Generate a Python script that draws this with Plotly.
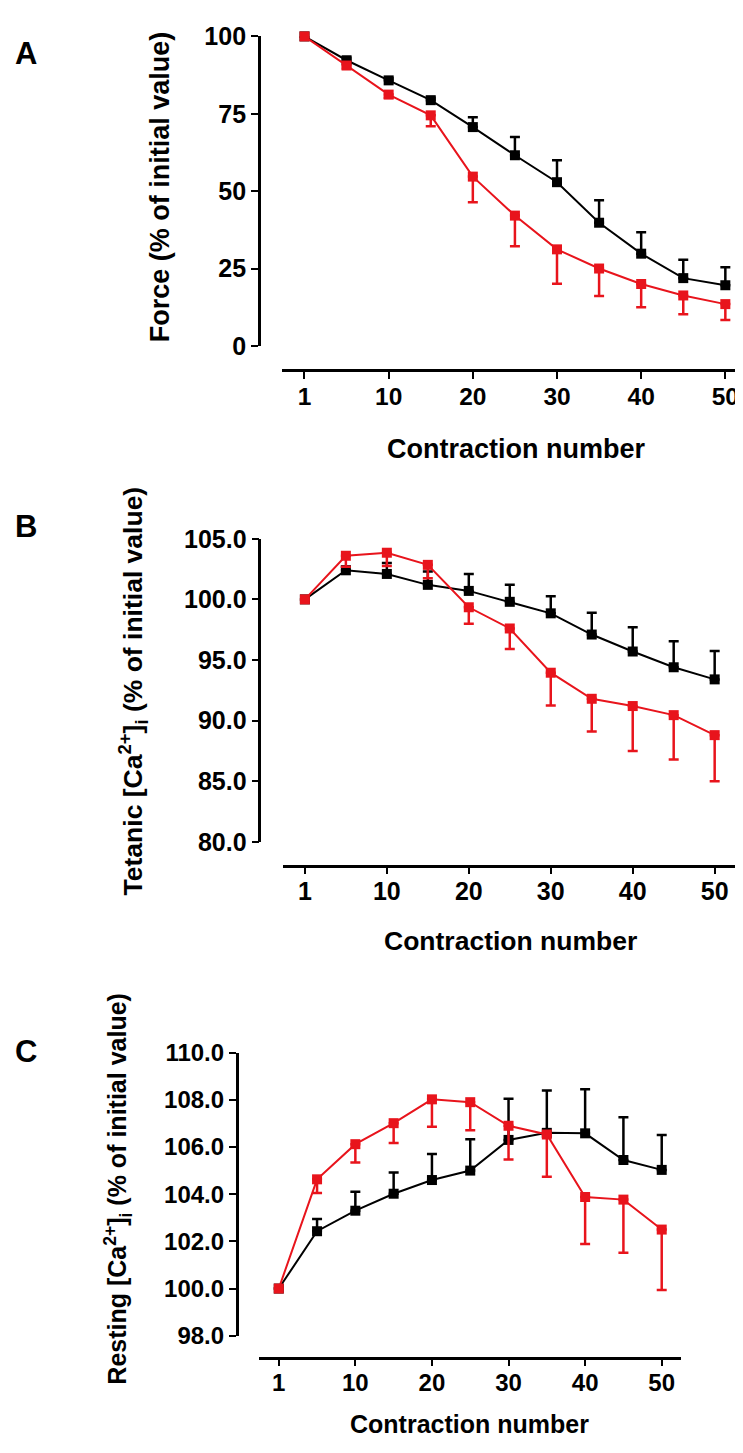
import plotly.graph_objects as go

# page is 743x1453; the HTML body has an 8px default margin, so the figure is
# made 8px smaller and all pixel positions are shifted by that margin.
W, H = 743, 1453
OFF = 8
FW, FH = W - OFF, H - OFF

# ---------------- data ----------------
contractions = ["1", "5", "10", "15", "20", "25", "30", "35", "40", "45", "50"]
tick_labels = ["1", "10", "20", "30", "40", "50"]

# Panel A: Force (% of initial value)
force_black = [100, 92.3, 85.8, 79.4, 70.7, 61.6, 52.9, 39.8, 29.8, 21.9, 19.6]
force_black_err = [0, 0.8, 0.8, 0.8, 3.2, 5.9, 7.1, 7.3, 6.9, 5.9, 5.8]
force_red = [100, 90.6, 81.2, 74.5, 54.7, 42.1, 31.2, 25.0, 20.0, 16.3, 13.5]
force_red_err = [0, 1.0, 1.0, 3.5, 8.3, 9.9, 11.1, 8.9, 7.5, 6.1, 5.1]

# Panel B: Tetanic [Ca2+]i (% of initial value)
tet_black = [100, 102.4, 102.1, 101.2, 100.7, 99.8, 98.85, 97.1, 95.7, 94.4, 93.4]
tet_black_err = [0, 0.3, 0.9, 1.1, 1.4, 1.4, 1.4, 1.8, 2.0, 2.15, 2.35]
tet_red = [100, 103.6, 103.85, 102.85, 99.35, 97.6, 93.95, 91.8, 91.2, 90.45, 88.8]
tet_red_err = [0, 0.9, 1.1, 1.1, 1.35, 1.7, 2.7, 2.7, 3.7, 3.65, 3.8]

# Panel C: Resting [Ca2+]i (% of initial value)
rest_black = [100, 102.43, 103.3, 104.02, 104.6, 105.0, 106.3, 106.6, 106.58, 105.45, 105.03]
rest_black_err = [0, 0.52, 0.8, 0.9, 1.1, 1.33, 1.75, 1.8, 1.87, 1.81, 1.48]
rest_red = [100, 104.63, 106.12, 107.01, 108.02, 107.9, 106.9, 106.53, 103.88, 103.77, 102.5]
rest_red_err = [0, 0.58, 0.78, 0.84, 1.16, 1.19, 1.43, 1.79, 1.99, 2.25, 2.56]

RED = "#e8141c"
BLACK = "#000000"
FONT = "Liberation Sans, Arial, Helvetica, sans-serif"


def px_x(p):
    return (p - OFF) / FW


def px_y(p):
    return (H - p) / FH


zeros = [0] * len(contractions)

fig = go.Figure()

panels = [
    dict(black=force_black, berr=force_black_err, red=force_red, rerr=force_red_err,
         xref="x", yref="y"),
    dict(black=tet_black, berr=tet_black_err, red=tet_red, rerr=tet_red_err,
         xref="x2", yref="y2"),
    dict(black=rest_black, berr=rest_black_err, red=rest_red, rerr=rest_red_err,
         xref="x3", yref="y3"),
]

for p in panels:
    fig.add_trace(go.Scatter(
        x=contractions, y=p["black"], mode="lines+markers",
        xaxis=p["xref"], yaxis=p["yref"],
        line=dict(color=BLACK, width=2),
        marker=dict(symbol="square", size=10, color=BLACK),
        error_y=dict(type="data", symmetric=False, array=p["berr"], arrayminus=zeros,
                     color=BLACK, thickness=2.5, width=5),
        cliponaxis=False, showlegend=False, hoverinfo="skip"))
    fig.add_trace(go.Scatter(
        x=contractions, y=p["red"], mode="lines+markers",
        xaxis=p["xref"], yaxis=p["yref"],
        line=dict(color=RED, width=2),
        marker=dict(symbol="square", size=10, color=RED),
        error_y=dict(type="data", symmetric=False, array=zeros, arrayminus=p["rerr"],
                     color=RED, thickness=2.5, width=5),
        cliponaxis=False, showlegend=False, hoverinfo="skip"))


def tfont(size):
    return dict(family=FONT, size=size, color="black", weight="bold")


def xaxis(x0, x1, tick0_px, tick10_px, line_y, fsize):
    per = (tick10_px - tick0_px) / 10.0
    return dict(
        type="category", categoryorder="array", categoryarray=contractions,
        domain=[px_x(x0), min(1.0, px_x(x1))],
        range=[(x0 - tick0_px) / per, (x1 - tick0_px) / per],
        anchor="free", position=px_y(line_y),
        showline=True, linewidth=2.5, linecolor="black",
        ticks="outside", ticklen=7, tickwidth=2, tickcolor="black",
        tickvals=tick_labels, ticktext=tick_labels, tickfont=tfont(fsize),
        ticklabelstandoff=-4,
        showgrid=False, zeroline=False, fixedrange=True)


def yaxis(top_px, bot_px, lo, hi, dtick, fmt, ax_x, fsize):
    return dict(
        domain=[px_y(bot_px), px_y(top_px)], range=[lo, hi],
        anchor="free", position=px_x(ax_x),
        showline=True, linewidth=2.5, linecolor="black",
        ticks="outside", ticklen=7, tickwidth=2, tickcolor="black",
        tick0=lo, dtick=dtick, tickformat=fmt, tickfont=tfont(fsize),
        showgrid=False, zeroline=False, fixedrange=True)


fig.update_layout(
    width=FW, height=FH, margin=dict(l=0, r=0, t=0, b=0),
    paper_bgcolor="white", plot_bgcolor="white",
    xaxis=xaxis(283, 739, 305.3, 727.3, 363.3, 24.5),
    yaxis=yaxis(22.7, 338.3, 0, 100, 25, "d", 259.5, 25),
    xaxis2=xaxis(284, 737, 305.7, 716.6, 868.3, 25),
    yaxis2=yaxis(535, 844, 80, 105, 5, ".1f", 260, 25),
    xaxis3=xaxis(259.3, 682.5, 279.5, 663.5, 1370, 24),
    yaxis3=yaxis(1059, 1347.7, 98, 110, 2, ".1f", 237.3, 24),
)

annos = [
    dict(text="A", x=26, y=40, size=31, angle=0),
    dict(text="B", x=26, y=522, size=31, angle=0),
    dict(text="C", x=26, y=1058, size=31, angle=0),
    dict(text="Force (% of initial value)", x=160, y=176, size=27, angle=-90),
    dict(text="Tetanic [Ca<sup>2+</sup>]<sub>i</sub> (% of initial value)", x=133, y=690,
         size=26.5, angle=-90),
    dict(text="Resting [Ca<sup>2+</sup>]<sub>i</sub> (% of initial value)", x=118, y=1198,
         size=25, angle=-90),
    dict(text="Contraction number", x=517, y=443, size=27, angle=0),
    dict(text="Contraction number", x=512, y=945, size=26.5, angle=0),
    dict(text="Contraction number", x=471, y=1438, size=25, angle=0),
]
for a in annos:
    fig.add_annotation(text=a["text"], x=px_x(a["x"]), y=px_y(a["y"]),
                       xref="paper", yref="paper", xanchor="center", yanchor="middle",
                       showarrow=False, textangle=a["angle"], font=tfont(a["size"]))

fig.write_html("out.html")
